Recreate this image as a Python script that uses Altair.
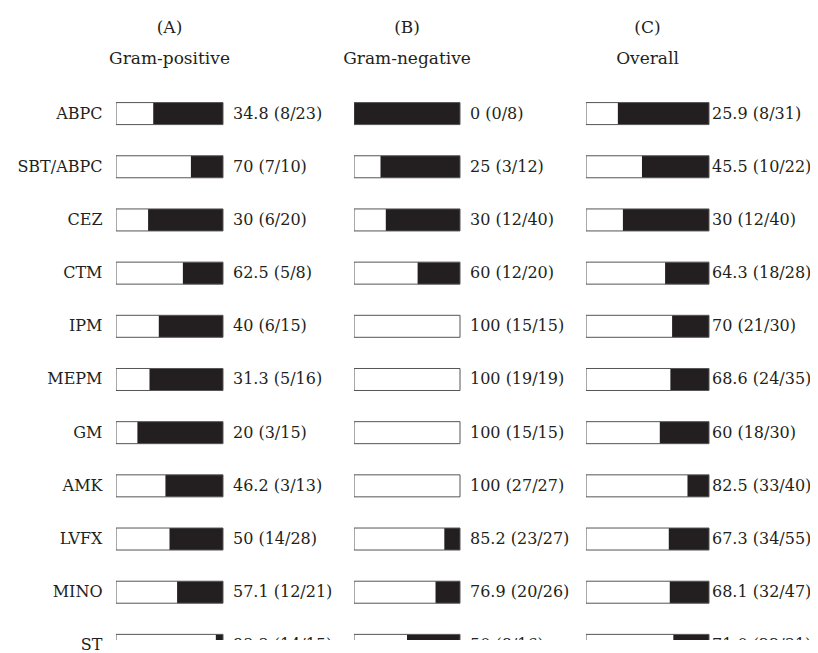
import altair as alt
import pandas as pd

drugs = ["ABPC", "SBT/ABPC", "CEZ", "CTM", "IPM", "MEPM", "GM", "AMK", "LVFX", "MINO", "ST"]

pos_pct = [34.8, 70, 30, 62.5, 40, 31.3, 20, 46.2, 50, 57.1, 93.3]
pos_lbl = ["34.8 (8/23)", "70 (7/10)", "30 (6/20)", "62.5 (5/8)", "40 (6/15)", "31.3 (5/16)",
           "20 (3/15)", "46.2 (3/13)", "50 (14/28)", "57.1 (12/21)", "93.3 (14/15)"]

neg_pct = [0, 25, 30, 60, 100, 100, 100, 100, 85.2, 76.9, 50]
neg_lbl = ["0 (0/8)", "25 (3/12)", "30 (12/40)", "60 (12/20)", "100 (15/15)", "100 (19/19)",
           "100 (15/15)", "100 (27/27)", "85.2 (23/27)", "76.9 (20/26)", "50 (8/16)"]

all_pct = [25.9, 45.5, 30, 64.3, 70, 68.6, 60, 82.5, 67.3, 68.1, 71.0]
all_lbl = ["25.9 (8/31)", "45.5 (10/22)", "30 (12/40)", "64.3 (18/28)", "70 (21/30)", "68.6 (24/35)",
           "60 (18/30)", "82.5 (33/40)", "67.3 (34/55)", "68.1 (32/47)", "71.0 (22/31)"]

FONT = "DejaVu Serif"
INK = "#231f20"
STEP = 53.18
PLOT_H = 553


def panel(pct, lbl, letter, name, width, bar_w, dx, show_axis):
    df = pd.DataFrame({"drug": drugs, "pct": pct, "full": [100] * len(drugs),
                       "zero": [0] * len(drugs), "label": lbl})
    yaxis = alt.Axis(title=None, domain=False, ticks=False, labelPadding=14,
                     labelFontSize=16, labelFont=FONT, labelColor=INK) if show_axis else None
    y = alt.Y("drug:N", sort=drugs, axis=yaxis,
              scale=alt.Scale(paddingInner=0, paddingOuter=0, range=[0, STEP * len(drugs)]))
    xs = alt.Scale(domain=[0, 100], nice=False, range=[0, bar_w])
    base = alt.Chart(df)
    white = base.mark_bar(height=22, fill="white", clip=True).encode(
        x=alt.X("zero:Q", scale=xs, axis=None), x2="pct:Q", y=y)
    black = base.mark_bar(height=22, fill=INK, clip=True).encode(
        x=alt.X("pct:Q", scale=xs, axis=None), x2="full:Q", y=y)
    frame = base.mark_bar(height=22, fill=None, stroke="#555555", strokeWidth=1, clip=True).encode(
        x=alt.X("zero:Q", scale=xs, axis=None), x2="full:Q", y=y)
    text = base.mark_text(align="left", baseline="middle", dx=dx, font=FONT,
                          fontSize=16, color=INK, clip=True).encode(
        x=alt.X("full:Q", scale=xs, axis=None), y=y, text="label:N")
    return alt.layer(white, black, frame, text).properties(
        width=width, height=PLOT_H,
        title=alt.TitleParams([letter, name], fontSize=17, font=FONT, fontWeight="normal",
                              color=INK, anchor="start", align="center", dx=bar_w / 2,
                              frame="group", lineHeight=31, offset=19))


pA = panel(pos_pct, pos_lbl, "(A)", "Gram-positive", 226, 107, 10, True)
pB = panel(neg_pct, neg_lbl, "(B)", "Gram-negative", 220, 106, 10, False)
pC = panel(all_pct, all_lbl, "(C)", "Overall", 224, 123, 3, False)

chart = alt.hconcat(pA, pB, pC, spacing=12, bounds="flush").properties(
    padding={"left": 8, "top": 11, "right": 0, "bottom": -8},
    background="white"
).configure_view(strokeWidth=0, stroke=None)

chart.save("out.html", embed_options={"renderer": "svg", "actions": False})
